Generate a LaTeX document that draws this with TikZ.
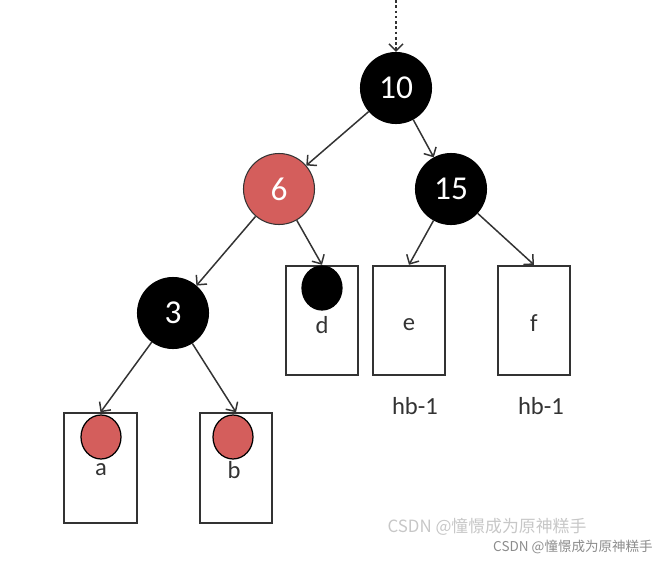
\documentclass[tikz,border=0pt]{standalone}
\usepackage{fontspec}
\setmainfont{Carlito}
\newfontfamily\cjk{Noto Sans CJK SC}
\usetikzlibrary{arrows.meta,shapes.geometric}
\definecolor{nodered}{RGB}{212,94,92}
\definecolor{edgegray}{RGB}{51,51,51}
\tikzset{
  blacknode/.style={circle,fill=black,draw=black,minimum size=1.42cm,inner sep=0pt,
    text=white,font=\fontsize{19}{19}\selectfont},
  rednode/.style={blacknode,fill=nodered,draw=edgegray},
  leafbox/.style={draw=edgegray,line width=1.1pt,minimum width=1.45cm,minimum height=2.19cm,inner sep=0pt},
  leafdot/.style={ellipse,minimum width=.8cm,minimum height=.88cm,inner sep=0pt,draw=black,line width=.7pt},
  leaflabel/.style={font=\fontsize{14}{14}\selectfont,text=edgegray,inner sep=0pt},
  link/.style={->,draw=edgegray,line width=.85pt},
  watermark/.style={font=\cjk,inner sep=0pt}
}
\begin{document}
\begin{tikzpicture}[x=1cm,y=1cm,>={Straight Barb[length=4pt,width=8pt]},line width=.6pt]
  \useasboundingbox (0,0) rectangle (13.12,-11.22);
  % inner nodes
  \node[blacknode] (n10) at (7.92,-1.76) {10};
  \node[rednode] (n6) at (5.58,-3.78) {6};
  \node[blacknode] (n15) at (9.02,-3.78) {15};
  \node[blacknode] (n3) at (3.46,-6.26) {3};
  % leaves
  \node[leafbox] (boxd) at (6.44,-6.41) {};
  \node[leafbox] (boxe) at (8.18,-6.41) {};
  \node[leafbox] (boxf) at (10.68,-6.41) {};
  \node[leafbox] (boxa) at (2.01,-9.36) {};
  \node[leafbox] (boxb) at (4.72,-9.36) {};
  \node[leafdot,fill=black] (dotd) at (6.44,-5.76) {};
  \node[leafdot,fill=nodered] (dota) at (2.02,-8.74) {};
  \node[leafdot,fill=nodered] (dotb) at (4.66,-8.74) {};
  \node[leaflabel] (lbld) at (6.44,-6.50) {d};
  \node[leaflabel] (lble) at (8.18,-6.50) {e};
  \node[leaflabel] (lblf) at (10.68,-6.46) {f};
  \node[leaflabel] (lbla) at (2.02,-9.40) {a};
  \node[leaflabel] (lblb) at (4.68,-9.40) {b};
  \node[leaflabel] (hbe) at (8.30,-8.12) {hb-1};
  \node[leaflabel] (hbf) at (10.82,-8.12) {hb-1};
  % edges
  \coordinate (root) at (7.92,0);
  \draw[link,dash pattern=on 1.5pt off 1.5pt] (root) -- (n10);
  \draw[link] (n10) -- (n6);
  \draw[link] (n10) -- (n15);
  \draw[link] (n6) -- (n3);
  \draw[link] (n6) -- (boxd.north);
  \draw[link] (n15) -- (boxe.north);
  \draw[link] (n15) -- (boxf.north);
  \draw[link] (n3) -- (boxa.north);
  \draw[link] (n3) -- (boxb.north);
  % watermarks
  \node[watermark,text=black!22,font=\cjk\fontsize{9.6}{9.6}\selectfont] (wm1) at (9.74,-10.54) {CSDN @憧憬成为原神糕手};
  \node[watermark,text=black!45,font=\cjk\fontsize{7.7}{7.7}\selectfont] (wm2) at (11.46,-10.94) {CSDN @憧憬成为原神糕手};
\end{tikzpicture}
\end{document}
